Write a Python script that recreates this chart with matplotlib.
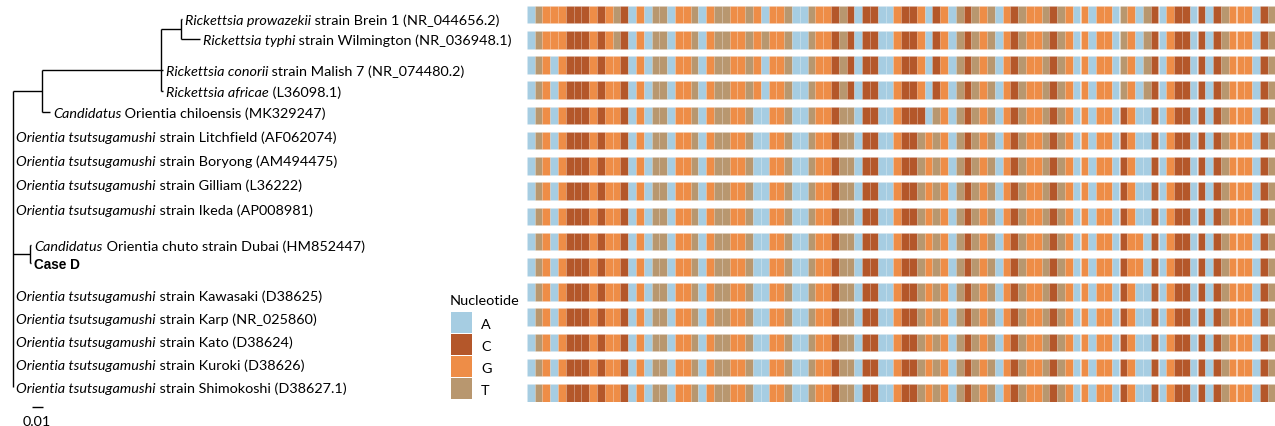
import matplotlib
matplotlib.use("Agg", force=True)

import numpy as np
import matplotlib.pyplot as plt
from matplotlib.patches import Rectangle

# ---- data ----
# italic part, plain part of each tip label (top to bottom)
label_italic = [
    "Rickettsia prowazekii", "Rickettsia typhi", "Rickettsia conorii",
    "Rickettsia africae", "Candidatus",
    "Orientia tsutsugamushi", "Orientia tsutsugamushi", "Orientia tsutsugamushi",
    "Orientia tsutsugamushi", "Candidatus", "",
    "Orientia tsutsugamushi", "Orientia tsutsugamushi", "Orientia tsutsugamushi",
    "Orientia tsutsugamushi", "Orientia tsutsugamushi",
]
label_plain = [
    " strain Brein 1 (NR_044656.2)", " strain Wilmington (NR_036948.1)",
    " strain Malish 7 (NR_074480.2)", " (L36098.1)",
    " Orientia chiloensis (MK329247)",
    " strain Litchfield (AF062074)", " strain Boryong (AM494475)",
    " strain Gilliam (L36222)", " strain Ikeda (AP008981)",
    " Orientia chuto strain Dubai (HM852447)", "Case D",
    " strain Kawasaki (D38625)", " strain Karp (NR_025860)",
    " strain Kato (D38624)", " strain Kuroki (D38626)",
    " strain Shimokoshi (D38627.1)",
]
bold_tip = 10

# aligned 16S fragment, one string per tip
alignment = [
    "ATGGGCCCGCGTCAGATTAGGTAGTTGGTGAGGTAATGGCTCACCAAGCCGACGATCTGTAGCTGGTCTGAGAGGATGATCAGCCACACTGGGACT",
    "ATGGGCCCGCGTCAGATTAGGTAGTTGGTGTGGTAATGGCTCACCAAGCCGACGATCTGTAGCTGGTCTGAGAGGATGATCAGCCACACTGGGACT",
    "ATGAGCCCGCGGCAGATTAGGTAGTTGGTGAGGTAATGGCTCACCAAGCCGACGATCTGTAGCTGGTCTGAGAGGATGATCAGCCACACTGGGACT",
    "ATGAGCCCGCGGCAGATTAGGTAGTTGGTGAGGTAATGGCTCACCAAGCCGACGATCTGTAGCTGGTCTGAGAGGATGATCAGCCACACTGGGACT",
    "ATGAGCCCGCGGCAGATTAGGTAGTTGGTAAGGTAATGGCTTACCAAGCCCATGATCTGTAGCTGGTCTGAGAGGACGAACAGCCACACTGGGACT",
    "ATGAGCCCGCGGCAGATTAGGTAGTTGGTAAGGTAATGGCTTACCAAGCCTGTGATCTGTAGCTGGTCTGAGAGGACGAACAGCCACACTGGGACT",
    "ATGAGCCCGCGGCAGATTAGGTAGTTGGTAAGGTAATGGCTTACCAAGCCTGTGATCTGTAGCTGGTCTGAGAGGACGAACAGCCACACTGGGACT",
    "ATGAGCCCGCGGCAGATTAGGTAGTTGGTAAGGTAATGGCTTACCAAGCCTGTGATCTGTAGCTGGTCTGAGAGGACGAACAGCCACACTGGGACT",
    "ATGAGCCCGCGGCAGATTAGGTAGTTGGTAAGGTAATGGCTTACCAAGCCTGTGATCTGTAGCTGGTCTGAGAGGACGAACAGCCACACTGGGACT",
    "ATGAGCCCGCGGCAGATTAGGTAGTTGGTAAGGTAATGGCTTACCAAGCCTGTGATCTGTAGCTGGTCTGAGAGGACGGACAGCCACACTGGGACT",
    "ATGAGCCCGCGGCAGATTAGGTAGTTGGTAAGGTAATGGCTTACCAAGCCTGTGATCTGTAGCTGGTCTGAGAGGACGGACAGCCACACTGGGACT",
    "ATGAGCCCGCGGCAGATTAGGTAGTTGGTAAGGTAATGGCTTACCAAGCCTGTGATCTGTAGCTGGTCTGAGAGGACGAACAGCCACACTGGGACT",
    "ATGAGCCCGCGGCAGATTAGGTAGTTGGTAAGGTAATGGCTTACCAAGCCTGTGATCTGTAGCTGGTCTGAGAGGACGAACAGCCACACTGGGACT",
    "ATGAGCCCGCGGCAGATTAGGTAGTTGGTAAGGTAATGGCTTACCAAGCCTGTGATCTGTAGCTGGTCTGAGAGGACGAACAGCCACACTGGGACT",
    "ATGAGCCCGCGGCAGATTAGGTAGTTGGTAAGGTAATGGCTTACCAAGCCTGTGATCTGTAGCTGGTCTGAGAGGACGAACAGCCACACTGGGACT",
    "ATGAGCCCGCGGCAGATTAGGTAGTTGGTAAGGTAATGGCTTACCAAGCCTGTGATCTGTAGCTGGTCTGAGAGGACGAACAGCCACACTGGGACT",
]

nucleotides = ["A", "C", "G", "T"]
nuc_colors = {"A": "#a6cde2", "C": "#b4572a", "G": "#ee8d47", "T": "#b8976f"}


# tree: clades hold children and a branch length, tips hold a label index
def tip(i, bl=0.0):
    return {"tip": i, "bl": bl}


def clade(children, bl=0.0):
    return {"children": children, "bl": bl}


tree = clade([
    clade([
        clade([
            clade([tip(0, 0.001), tip(1, 0.0173)], 0.018),
            tip(2, 0.0018),
            tip(3, 0.0018),
        ], 0.108),
        tip(4, 0.0073),
    ], 0.0264),
    tip(5), tip(6), tip(7), tip(8),
    clade([tip(9, 0.001), tip(10, 0.001)], 0.0155),
    tip(11), tip(12), tip(13), tip(14), tip(15),
])

# ---- layout ----
W, H = 1275, 427
root_x = 13
px_per_unit = 1100
tip_y = [20, 40, 71, 92, 113, 137, 161, 185, 210, 246, 264, 296, 319, 342, 365, 388]
font_size = 10.4
line_kw = dict(color="black", linewidth=1.0, solid_capstyle="butt")

fig = plt.figure(figsize=(W / 100, H / 100), dpi=100)
ax = fig.add_axes([0, 0, 1, 1])
ax.set_xlim(0, W)
ax.set_ylim(H, 0)
ax.axis("off")


def layout(node, x_parent):
    x = x_parent + node["bl"] * px_per_unit
    node["x"] = x
    if "tip" in node:
        node["y"] = tip_y[node["tip"]]
    else:
        ys = [layout(c, x) for c in node["children"]]
        node["y"] = float(np.median(ys))
    return node["y"]


def draw(node):
    if "tip" in node:
        return
    ys = [c["y"] for c in node["children"]]
    ax.plot([node["x"], node["x"]], [min(ys), max(ys)], **line_kw)
    for c in node["children"]:
        if c["x"] > node["x"]:
            ax.plot([node["x"], c["x"]], [c["y"], c["y"]], **line_kw)
        draw(c)


layout(tree, root_x)
draw(tree)

# tip labels: italic genus/species followed by plain strain text
renderer = fig.canvas.get_renderer()


def tips(node):
    if "tip" in node:
        yield node
    else:
        for c in node["children"]:
            yield from tips(c)


for node in tips(tree):
    i = node["tip"]
    x = node["x"] + 3
    y = node["y"]
    if i == bold_tip:
        ax.text(x, y, label_plain[i], fontsize=font_size - 0.6, fontweight="bold",
                family="Liberation Sans", va="center_baseline", ha="left")
        continue
    t = ax.text(x, y, label_italic[i], fontsize=font_size, style="italic",
                family="Lato", va="center_baseline", ha="left")
    x += t.get_window_extent(renderer).width
    ax.text(x, y, label_plain[i], fontsize=font_size, family="Lato",
            va="center_baseline", ha="left")

# scale bar
bar_len = 0.01 * px_per_unit
ax.plot([37 - bar_len / 2, 37 + bar_len / 2], [408, 408], **line_kw)
ax.text(37, 421, "0.01", fontsize=font_size, family="Lato",
        ha="center", va="center_baseline")

# legend
ax.text(450, 300, "Nucleotide", fontsize=font_size, family="Lato",
        ha="left", va="center_baseline")
for k, nuc in enumerate(nucleotides):
    ax.add_patch(Rectangle((451, 313 + 22 * k), 21, 21,
                           facecolor=nuc_colors[nuc], edgecolor="none"))
    ax.text(481, 324 + 22 * k, nuc, fontsize=font_size, family="Lato",
            ha="left", va="center_baseline")

# alignment panel
n_cols = len(alignment[0])
x0, x1 = 526.7, 1275.5
y_top, y_bot = 6.7, 402.7
row_h = 0.698
axh = fig.add_axes([x0 / W, 1 - y_bot / H, (x1 - x0) / W, (y_bot - y_top) / H])
axh.set_xlim(0, n_cols)
axh.set_ylim(len(alignment) - 1 + row_h, 0)
axh.axis("off")
cols = np.arange(n_cols)
for r, seq in enumerate(alignment):
    axh.bar(cols, row_h, bottom=r, width=1.0, align="edge",
            color=[nuc_colors[b] for b in seq],
            edgecolor=(1, 1, 1, 0.12), linewidth=0.4)

fig.savefig("out.png", dpi=100, facecolor="white")
plt.close(fig)
